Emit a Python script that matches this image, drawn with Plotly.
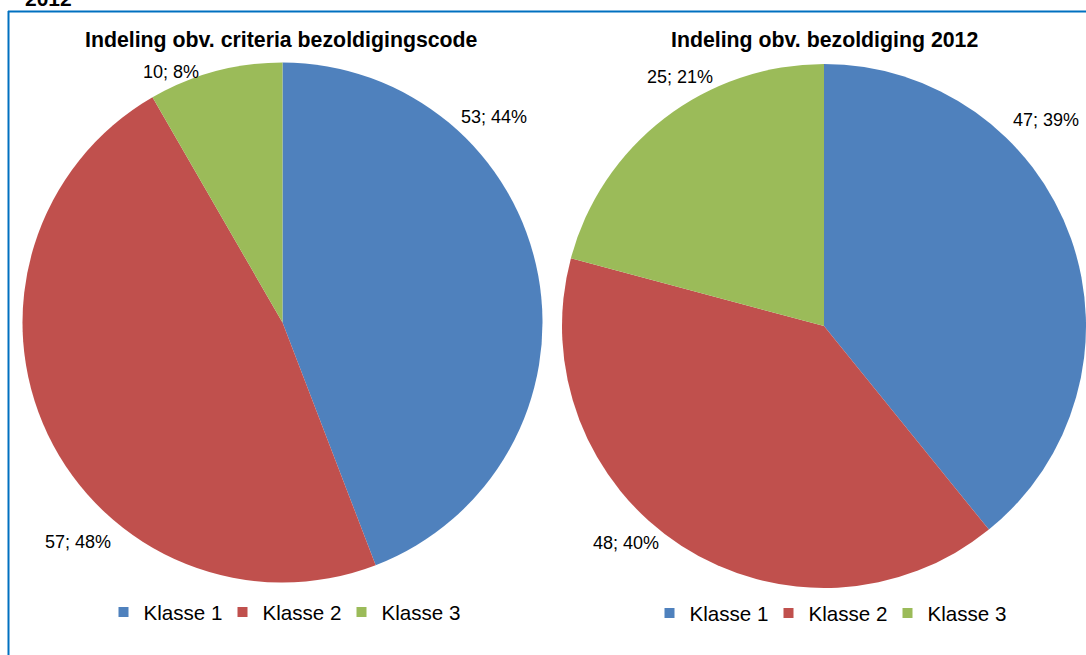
import plotly.graph_objects as go

# ---- data ----
categories = ["Klasse 1", "Klasse 2", "Klasse 3"]
values_criteria = [53, 57, 10]
values_2012 = [47, 48, 25]
title_criteria = "Indeling obv. criteria bezoldigingscode"
title_2012 = "Indeling obv. bezoldiging 2012"
header_text = "2012"

colors = ["#4F81BD", "#C0504D", "#9BBB59"]
FONT = "Liberation Sans, Arial, sans-serif"
W, H = 1086, 655


def px_x(x):
    return x / W


def px_y(y):
    return 1 - y / H


def label_texts(vals):
    tot = sum(vals)
    return [f"{v}; {round(100 * v / tot)}%" for v in vals]


fig = go.Figure()
fig.add_trace(go.Pie(
    labels=categories, values=values_criteria, sort=False, direction="clockwise",
    marker=dict(colors=colors, line=dict(width=0)), textinfo="none",
    hoverinfo="label+value+percent", showlegend=False,
    domain=dict(x=[px_x(22.5), px_x(542.5)], y=[px_y(582.5), px_y(62.5)]),
))
fig.add_trace(go.Pie(
    labels=categories, values=values_2012, sort=False, direction="clockwise",
    marker=dict(colors=colors, line=dict(width=0)), textinfo="none",
    hoverinfo="label+value+percent", showlegend=False,
    domain=dict(x=[px_x(562), 1.0], y=[px_y(589), px_y(63)]),
))

# legend entries (one legend under each pie)
for lid in ("legend", "legend2"):
    for cat, col in zip(categories, colors):
        fig.add_trace(go.Scatter(
            x=[None], y=[None], mode="markers", name=cat,
            marker=dict(symbol="square", size=10, color=col),
            showlegend=True, legend=lid, hoverinfo="skip",
        ))

# data label placement (pixel centres), one per slice
label_pos_criteria = [(494, 117), (78, 542), (171, 72)]
label_pos_2012 = [(1046, 120), (626, 543), (680, 77)]

annotations = []
for texts, poss in ((label_texts(values_criteria), label_pos_criteria),
                    (label_texts(values_2012), label_pos_2012)):
    for t, (x, y) in zip(texts, poss):
        annotations.append(dict(
            text=t, x=px_x(x), y=px_y(y), xref="paper", yref="paper",
            xanchor="center", yanchor="middle", showarrow=False,
            font=dict(family=FONT, size=18, color="#000000")))

for t, cx in ((title_criteria, 281), (title_2012, 824)):
    annotations.append(dict(
        text=f"<b>{t}</b>", x=px_x(cx), y=px_y(40), xref="paper", yref="paper",
        xanchor="center", yanchor="middle", showarrow=False,
        font=dict(family=FONT, size=21.3, color="#000000")))

annotations.append(dict(
    text=f"<b>{header_text}</b>", x=px_x(23), y=px_y(-1), xref="paper", yref="paper",
    xanchor="left", yanchor="middle", showarrow=False,
    font=dict(family=FONT, size=21, color="#000000")))

border = "#0070C0"
shapes = [
    dict(type="line", xref="paper", yref="paper", x0=px_x(8), x1=1.0,
         y0=px_y(11.5), y1=px_y(11.5), line=dict(color=border, width=2)),
    dict(type="line", xref="paper", yref="paper", x0=px_x(8.5), x1=px_x(8.5),
         y0=px_y(11), y1=0, line=dict(color=border, width=2)),
]

legend_common = dict(
    orientation="h", xanchor="center", yanchor="middle", visible=True,
    font=dict(family=FONT, size=20.6, color="#000000"),
    bgcolor="rgba(0,0,0,0)", entrywidth=74, itemclick=False, itemdoubleclick=False,
)

fig.update_layout(
    width=W, height=H,
    margin=dict(l=0, r=0, t=0, b=0),
    paper_bgcolor="white", plot_bgcolor="rgba(0,0,0,0)",
    font=dict(family=FONT, color="#000000"),
    xaxis=dict(visible=False), yaxis=dict(visible=False),
    annotations=annotations,
    shapes=shapes,
    legend=dict(x=px_x(282), y=px_y(612), **legend_common),
    legend2=dict(x=px_x(828), y=px_y(613), **legend_common),
    showlegend=True,
)

fig.write_html("out.html", config={"displayModeBar": False},
               post_script="document.body.style.margin='0px';")
